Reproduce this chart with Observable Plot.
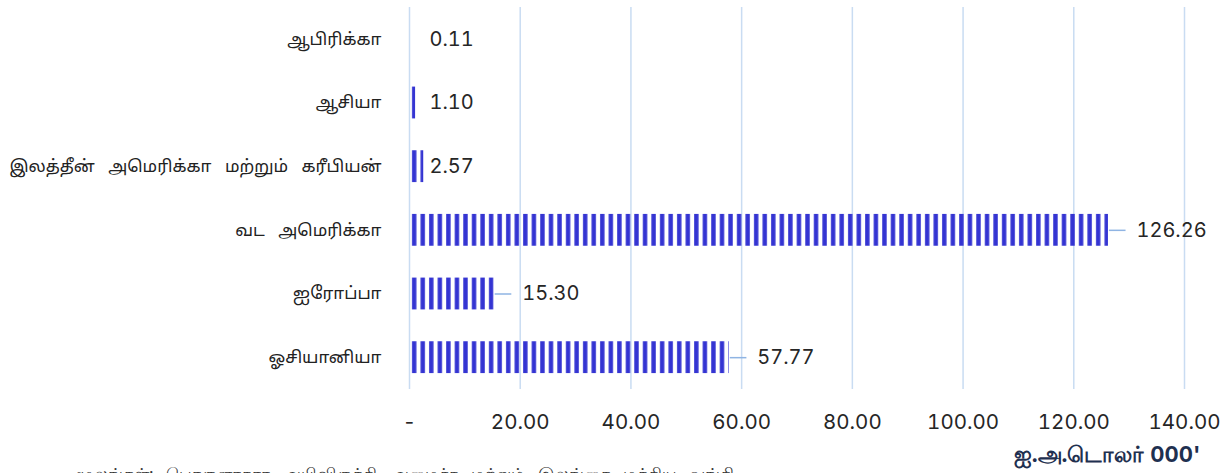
<!DOCTYPE html>
<html>
<head>
<meta charset="utf-8">
<script src="https://cdn.jsdelivr.net/npm/d3@7"></script>
<script src="https://cdn.jsdelivr.net/npm/@observablehq/plot@0.6"></script>
<style>
  html, body { margin: 0; padding: 0; background: #fff; overflow: hidden; }
  #chart { position: relative; width: 1223px; }
  #chart svg text { font-variant-numeric: tabular-nums; font-feature-settings: "tnum" 1; }
  .caption { font-family: "Noto Sans", "Lato", sans-serif; font-size: 17px; color: #333; margin: 0 0 0 75px; white-space: nowrap; word-spacing: 8px; }
  .ylab text { word-spacing: 9px; }
</style>
</head>
<body>
<div id="chart"></div>
<script>
const regions = ["ஆபிரிக்கா", "ஆசியா", "இலத்தீன் அமெரிக்கா மற்றும் கரீபியன்", "வட அமெரிக்கா", "ஐரோப்பா", "ஓசியானியா"];
const values = [0.11, 1.10, 2.57, 126.26, 15.30, 57.77];
const xTicks = [0, 20, 40, 60, 80, 100, 120, 140];
const axisTitle = "ஐ.அ.டொலர் 000'";
const captionText = "மூலங்கள்: பொருளாதார அபிவிருத்தி அமைச்சு மற்றும் இலங்கை மத்திய வங்கி";

const data = regions.map((r, i) => ({region: r, value: values[i]}));
const small = data.filter(d => d.value < 5);
const large = data.filter(d => d.value >= 5);

const tickFmt = v => v === 0 ? "-" : d3.format(".2f")(v);

const chart = Plot.plot({
  width: 1223,
  height: 462,
  marginLeft: 409,
  marginRight: 39,
  marginTop: 7,
  marginBottom: 73,
  style: {fontFamily: "Inter, Roboto, 'Noto Sans', sans-serif", background: "#fff", overflow: "visible"},
  x: {domain: [0, 140], ticks: xTicks, tickFormat: tickFmt, label: null},
  y: {domain: regions, paddingInner: 0.5, paddingOuter: 0.25, round: false, label: null},
  marks: [
    Plot.ruleX(xTicks, {stroke: "#c9dcf2", strokeWidth: 1.5}),
    Plot.barX(data, {y: "region", x: "value", fill: "url(#stripes)"}),
    Plot.ruleY(large, {y: "region", x1: "value", x2: d => d.value + 3, dx: 1, stroke: "#8fb4e3", strokeWidth: 1.5}),
    Plot.text(large, {y: "region", x: "value", text: d => d.value.toFixed(2), textAnchor: "start", dx: 28, fontSize: 20, fill: "#262626"}),
    Plot.text(small, {y: "region", x: () => 0, text: d => d.value.toFixed(2), textAnchor: "start", dx: 20, fontSize: 20, fill: "#262626"}),
    Plot.axisX({ticks: xTicks, tickFormat: tickFmt, tickSize: 0, tickPadding: 25, fontSize: 20.5, fill: "#262626", label: null}),
    Plot.axisY({tickSize: 0, tickPadding: 28, fontSize: 17, fill: "#222", label: null, className: "ylab", fontFamily: "'Noto Sans Tamil', 'Lohit Tamil', 'Noto Sans', sans-serif"}),
    Plot.text([axisTitle], {frameAnchor: "bottom-right", dx: 16, dy: 72, textAnchor: "end", fontSize: 22, fontWeight: "bold", fill: "#1f3050"})
  ]
});

// stripe pattern for bars
const x0 = chart.scale("x").apply(0);
const svg = d3.select(chart);
const defs = svg.insert("defs", ":first-child");
const pat = defs.append("pattern")
  .attr("id", "stripes")
  .attr("patternUnits", "userSpaceOnUse")
  .attr("x", x0)
  .attr("y", 0)
  .attr("width", 8.55)
  .attr("height", 10);
pat.append("rect").attr("x", 3).attr("y", 0).attr("width", 4.4).attr("height", 10).attr("fill", "#3434d2");

document.getElementById("chart").appendChild(chart);
const cap = document.createElement("div");
cap.className = "caption";
cap.textContent = captionText;
document.getElementById("chart").appendChild(cap);
</script>
</body>
</html>
